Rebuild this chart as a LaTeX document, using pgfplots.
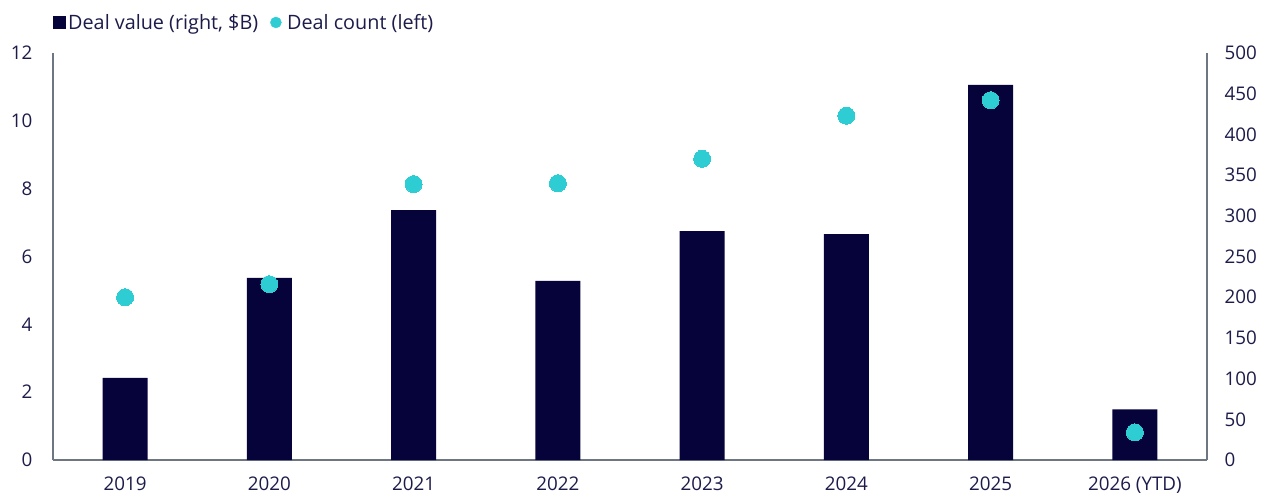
\documentclass[border=0pt]{standalone}
\usepackage{pgfplots}
\pgfplotsset{compat=1.18}
\usepackage{fontspec}
\setmainfont{Open Sans}
\definecolor{barc}{HTML}{06023A}
\definecolor{dotc}{HTML}{2ECCD3}
\definecolor{txt}{HTML}{1C1B4A}
\definecolor{axc}{HTML}{6E7781}
\begin{document}
\begin{tikzpicture}[font=\fontsize{18.5}{22}\selectfont]
\pgfplotsset{
 common/.style={scale only axis, width=1154pt, height=407pt, xmin=-0.5, xmax=7.5,
  /pgf/number format/assume math mode=true,
  tick style={draw=none},
  ticklabel style={text=txt, font=\fontsize{18.8}{22}\selectfont},
  axis line style={axc, line width=1.3pt}, clip=false}
}
\begin{axis}[common, name=ax, ymin=0, ymax=12, ytick={0,2,...,12},
  axis x line*=bottom, axis y line*=left,
  xtick={0,...,7},
  xticklabels={2019,2020,2021,2022,2023,2024,2025,2026 (YTD)},
  xticklabel style={yshift=-13pt},
  yticklabel style={xshift=-17pt},
  legend style={at={(0,1)}, anchor=south west, yshift=20pt, draw=none, fill=none,
    legend columns=2, inner sep=0pt, font=\fontsize{19.8}{23}\selectfont,
    nodes={text=txt, inner sep=2pt},
    /tikz/every even column/.style={column sep=10pt}},
  legend cell align=left]
\addplot[ybar, bar width=45pt, fill=barc, draw=none,
  legend image code/.code={\fill[barc] (0pt,-6.5pt) rectangle (13pt,6.5pt);}]
  coordinates {(0,2.42) (1,5.37) (2,7.37) (3,5.28) (4,6.75) (5,6.66) (6,11.06) (7,1.49)};
\addlegendentry{Deal value (right, \$B)}
\addlegendimage{legend image code/.code={\fill[dotc] (6pt,0pt) circle (5.5pt); \path (15pt,0pt);}}
\addlegendentry{Deal count (left)}
\end{axis}
\begin{axis}[common, ymin=0, ymax=500, ytick={0,50,...,500},
  axis y line*=right, axis x line=none, xtick=\empty,
  yticklabel style={xshift=14pt}]
\addplot[only marks, color=dotc, mark=*, mark size=8.5pt, mark options={fill=dotc, draw=dotc, line width=0pt}]
  coordinates {(0,200) (1,216) (2,339) (3,340) (4,370) (5,423) (6,442) (7,34)};
\end{axis}
\pgfresetboundingbox
\path[use as bounding box] ([xshift=-53pt,yshift=-40pt]ax.south west) rectangle ([xshift=64pt,yshift=53pt]ax.north east);
\end{tikzpicture}
\end{document}
